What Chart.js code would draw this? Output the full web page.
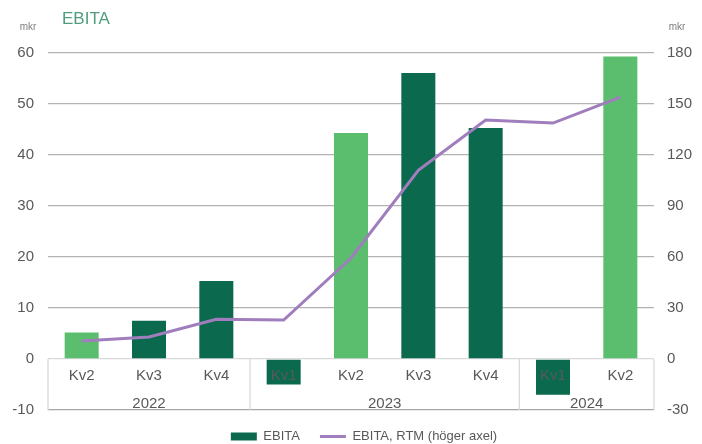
<!DOCTYPE html>
<html lang="sv">
<head>
    <meta charset="UTF-8">
    <title>EBITA</title>
    <script src="https://cdn.jsdelivr.net/npm/chart.js@4.4.1/dist/chart.umd.min.js"></script>
    <style>
        body { margin: 0; background: #fff; }
    </style>
</head>
<body>
    <canvas id="myChart" width="702" height="444"></canvas>
    <script>
        // data
        var quarters = ['Kv2', 'Kv3', 'Kv4', 'Kv1', 'Kv2', 'Kv3', 'Kv4', 'Kv1', 'Kv2'];
        var years = ['2022', '2022', '2022', '2023', '2023', '2023', '2023', '2024', '2024'];
        var ebita = [5.2, 7.5, 15.3, -5.0, 44.3, 56.1, 45.3, -7.0, 59.3];
        var ebitaRtm = [10.6, 13.0, 23.4, 22.9, 59.4, 111.0, 140.6, 138.8, 154.0];
        var leftTicks = { min: -10, max: 60, step: 10 };
        var rightTicks = { min: -30, max: 180, step: 30 };

        var lightGreen = '#5bbe6e';
        var darkGreen = '#0b6a4e';
        var purple = '#a07dbc';
        var textGrey = '#595959';
        var fontName = "'Liberation Sans', Arial, sans-serif";

        // Kv2 bars are light green, the others dark
        var barColors = quarters.map(function (q) { return q === 'Kv2' ? lightGreen : darkGreen; });

        // title, "mkr", the category table under the zero line
        var tablePlugin = {
            id: 'tablePlugin',
            beforeDatasetsDraw: function (chart) {
                var ctx = chart.ctx, xs = chart.scales.x, ys = chart.scales.y, area = chart.chartArea;
                var y0 = ys.getPixelForValue(0), y1 = ys.getPixelForValue(leftTicks.min);
                var cuts = [area.left];
                for (var i = 1; i < years.length; i++) {
                    if (years[i] !== years[i - 1]) {
                        cuts.push((xs.getPixelForValue(i - 1) + xs.getPixelForValue(i)) / 2);
                    }
                }
                cuts.push(area.right);
                ctx.save();
                ctx.strokeStyle = '#d9d9d9';
                ctx.lineWidth = 1.3;
                cuts.forEach(function (x) {
                    ctx.beginPath();
                    ctx.moveTo(x, y0);
                    ctx.lineTo(x, y1);
                    ctx.stroke();
                });
                ctx.restore();
                chart.$cuts = cuts;
            },
            afterDatasetsDraw: function (chart) {
                var ctx = chart.ctx, xs = chart.scales.x, ys = chart.scales.y;
                ctx.save();
                ctx.fillStyle = textGrey;
                ctx.textAlign = 'center';
                ctx.textBaseline = 'middle';
                ctx.font = '15px ' + fontName;
                quarters.forEach(function (q, i) {
                    ctx.fillText(q, xs.getPixelForValue(i), ys.getPixelForValue(-3.4));
                });
                // year labels centred in their group
                var cuts = chart.$cuts, g = 0;
                for (var i = 0; i < years.length; i++) {
                    if (i === 0 || years[i] !== years[i - 1]) {
                        ctx.fillText(years[i], (cuts[g] + cuts[g + 1]) / 2, ys.getPixelForValue(-8.7));
                        g++;
                    }
                }
                ctx.restore();
            },
            afterDraw: function (chart) {
                var ctx = chart.ctx;
                ctx.save();
                ctx.textBaseline = 'middle';
                ctx.fillStyle = '#4e9e7e';
                ctx.textAlign = 'left';
                ctx.font = '17px ' + fontName;
                ctx.fillText('EBITA', 62, 19);
                ctx.fillStyle = '#7f7f7f';
                ctx.textAlign = 'center';
                ctx.font = '10px ' + fontName;
                ctx.fillText('mkr', 28, 27);
                ctx.fillText('mkr', 677, 27);
                ctx.restore();
            }
        };

        var chartArea = document.getElementById('myChart').getContext('2d');
        var myChart = new Chart(chartArea, {
            type: 'bar',
            data: {
                labels: quarters,
                datasets: [{
                    label: 'EBITA',
                    data: ebita,
                    backgroundColor: barColors,
                    yAxisID: 'y',
                    order: 2,
                    categoryPercentage: 1,
                    barPercentage: 0.505
                }, {
                    type: 'line',
                    label: 'EBITA, RTM (höger axel)',
                    data: ebitaRtm,
                    borderColor: purple,
                    backgroundColor: purple,
                    borderWidth: 3,
                    pointRadius: 0,
                    tension: 0,
                    yAxisID: 'y1',
                    order: 1
                }]
            },
            options: {
                responsive: false,
                animation: false,
                // shifted a little so the legend sits right of centre, like the original
                layout: { padding: { top: 53, left: 12, right: -14, bottom: -9 } },
                plugins: {
                    tooltip: { enabled: false },
                    legend: {
                        position: 'bottom',
                        labels: {
                            color: textGrey,
                            font: { family: fontName, size: 13 },
                            usePointStyle: true,
                            pointStyleWidth: 26,
                            boxHeight: 8,
                            padding: 20,
                            sort: function (a, b) { return a.datasetIndex - b.datasetIndex; },
                            generateLabels: function (chart) {
                                var items = Chart.defaults.plugins.legend.labels.generateLabels(chart);
                                items.forEach(function (it) {
                                    if (it.datasetIndex === 0) {
                                        it.pointStyle = 'rect';
                                        it.fillStyle = darkGreen;
                                        it.strokeStyle = darkGreen;
                                        it.lineWidth = 0;
                                    } else {
                                        it.pointStyle = 'line';
                                        it.strokeStyle = purple;
                                        it.lineWidth = 3;
                                    }
                                });
                                return items;
                            }
                        }
                    }
                },
                scales: {
                    x: { display: false },
                    y: {
                        position: 'left',
                        min: leftTicks.min,
                        max: leftTicks.max,
                        ticks: {
                            stepSize: leftTicks.step,
                            color: textGrey,
                            padding: 14,
                            font: { family: fontName, size: 15 }
                        },
                        grid: {
                            drawTicks: false,
                            lineWidth: 1.3,
                            color: function (c) {
                                if (c.tick.value === 0) return '#d9d9d9';
                                if (c.tick.value === leftTicks.min) return '#a6a6a6';
                                return '#b3b3b3';
                            }
                        },
                        border: { display: false },
                        afterFit: function (scale) { scale.width = 36; }
                    },
                    y1: {
                        position: 'right',
                        min: rightTicks.min,
                        max: rightTicks.max,
                        ticks: {
                            stepSize: rightTicks.step,
                            color: textGrey,
                            padding: 13,
                            font: { family: fontName, size: 15 }
                        },
                        grid: { display: false, drawTicks: false },
                        border: { display: false },
                        afterFit: function (scale) { scale.width = 62; }
                    }
                }
            },
            plugins: [tablePlugin]
        });
    </script>
</body>
</html>
